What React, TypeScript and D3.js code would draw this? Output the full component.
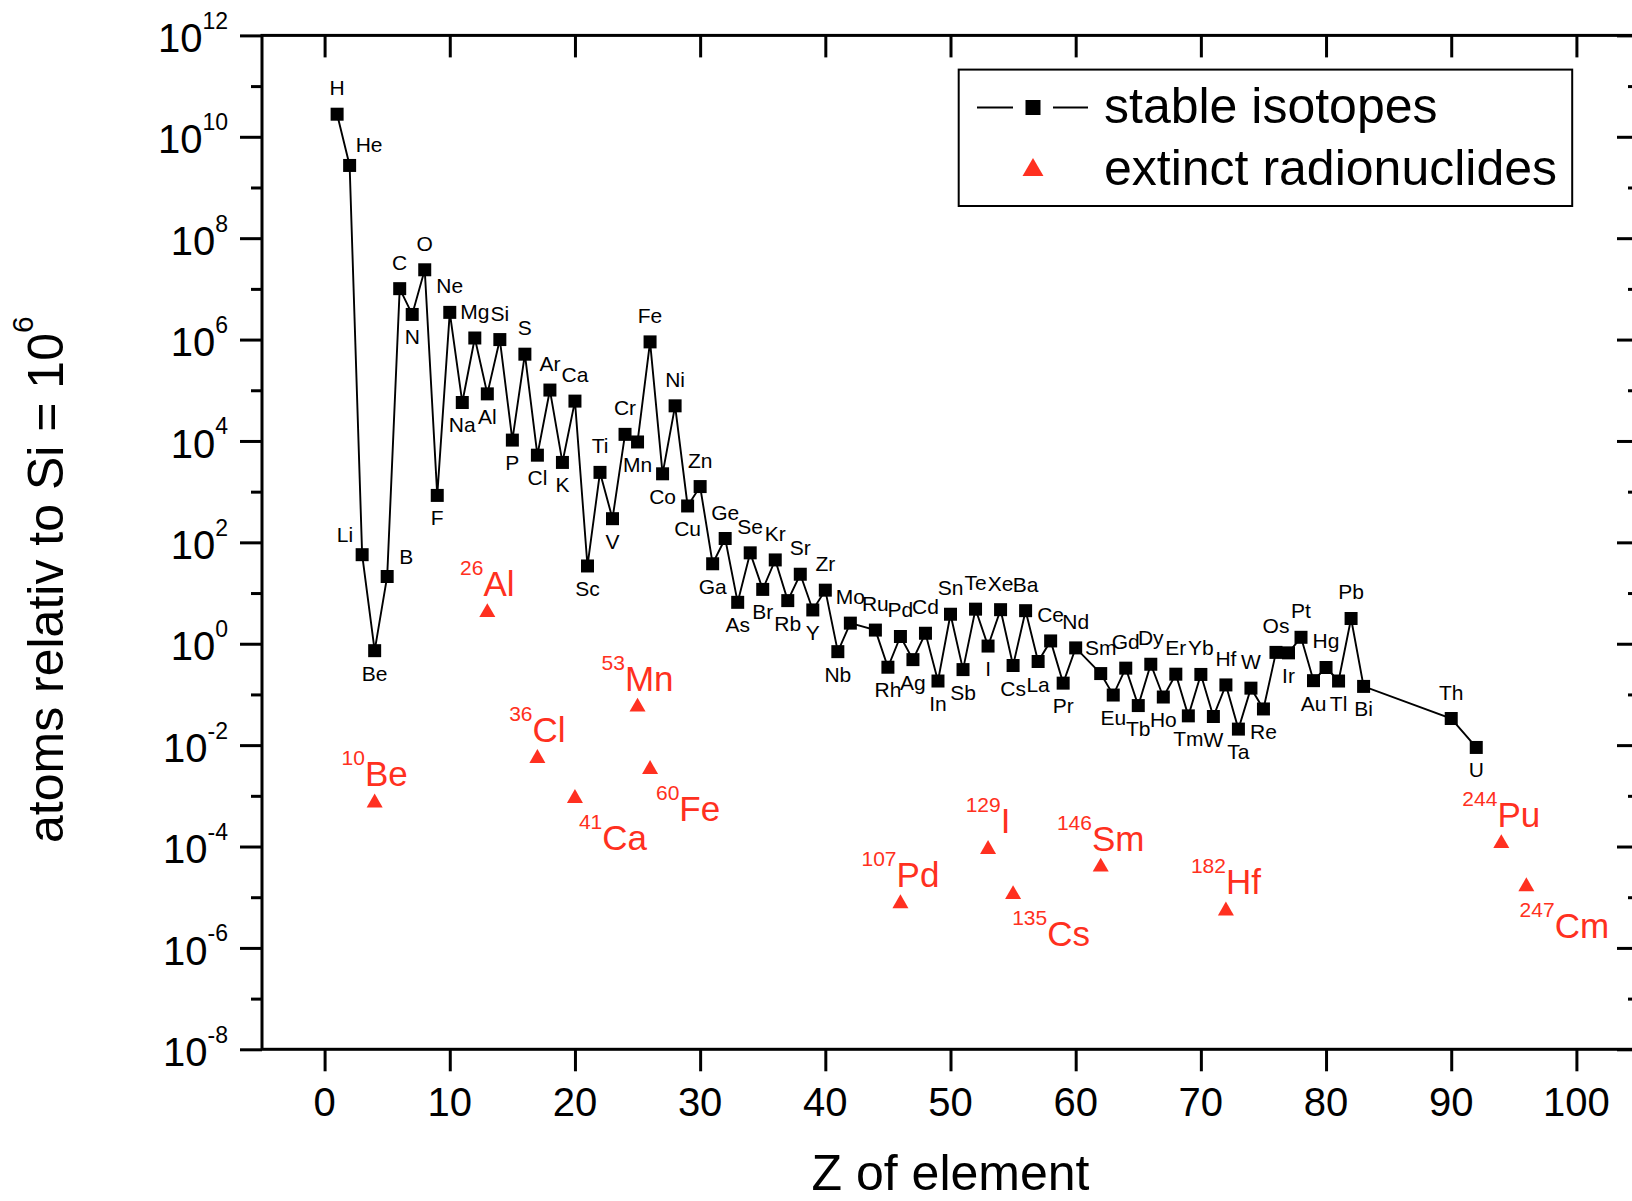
import React, { useRef, useEffect } from "react";
import * as d3 from "d3";

// solar system abundances, atoms per 10^6 Si
const symbols = [
  "H", "He", "Li", "Be", "B", "C", "N", "O", "F", "Ne",
  "Na", "Mg", "Al", "Si", "P", "S", "Cl", "Ar", "K", "Ca",
  "Sc", "Ti", "V", "Cr", "Mn", "Fe", "Co", "Ni", "Cu", "Zn",
  "Ga", "Ge", "As", "Se", "Br", "Kr", "Rb", "Sr", "Y", "Zr",
  "Nb", "Mo", "Ru", "Rh", "Pd", "Ag", "Cd", "In", "Sn", "Sb",
  "Te", "I", "Xe", "Cs", "Ba", "La", "Ce", "Pr", "Nd", "Sm",
  "Eu", "Gd", "Tb", "Dy", "Ho", "Er", "Tm", "Yb", "W", "Hf",
  "Ta", "W", "Re", "Os", "Ir", "Pt", "Au", "Hg", "Tl", "Pb",
  "Bi", "Th", "U",
];
const zNumbers = [
  1, 2, 3, 4, 5, 6, 7, 8, 9, 10,
  11, 12, 13, 14, 15, 16, 17, 18, 19, 20,
  21, 22, 23, 24, 25, 26, 27, 28, 29, 30,
  31, 32, 33, 34, 35, 36, 37, 38, 39, 40,
  41, 42, 44, 45, 46, 47, 48, 49, 50, 51,
  52, 53, 54, 55, 56, 57, 58, 59, 60, 62,
  63, 64, 65, 66, 67, 68, 69, 70, 71, 72,
  73, 74, 75, 76, 77, 78, 79, 80, 81, 82,
  83, 90, 92,
];
const abundances = [
  2.79e10, 2.72e9, 57.1, 0.73, 21.2, 1.01e7, 3.13e6, 2.38e7, 843, 3.44e6,
  5.74e4, 1.074e6, 8.49e4, 1.0e6, 1.04e4, 5.15e5, 5240, 1.01e5, 3770, 6.11e4,
  34.2, 2400, 293, 1.35e4, 9550, 9.0e5, 2250, 4.93e4, 522, 1260,
  37.8, 119, 6.56, 62.1, 11.8, 45, 7.09, 23.5, 4.64, 11.4,
  0.698, 2.55, 1.86, 0.344, 1.39, 0.486, 1.61, 0.184, 3.82, 0.309,
  4.81, 0.9, 4.7, 0.372, 4.49, 0.446, 1.136, 0.167, 0.828, 0.258,
  0.0973, 0.33, 0.0603, 0.394, 0.0889, 0.251, 0.0378, 0.248, 0.0367, 0.154,
  0.0207, 0.133, 0.0517, 0.675, 0.661, 1.34, 0.187, 0.34, 0.184, 3.15,
  0.144, 0.0335, 0.009,
];
// where each element label sits: a = above, b = below, r = right, l = left
const labelSides = [
  "a", "r", "l", "b", "r", "a", "b", "a", "b", "a",
  "b", "a", "b", "a", "b", "a", "b", "a", "b", "a",
  "b", "a", "b", "a", "b", "a", "b", "a", "b", "a",
  "b", "a", "b", "a", "b", "a", "b", "a", "b", "a",
  "b", "a", "a", "b", "a", "b", "a", "b", "a", "b",
  "a", "b", "a", "b", "a", "b", "a", "b", "a", "a",
  "b", "a", "b", "a", "b", "a", "b", "a", "b", "a",
  "b", "a", "b", "a", "b", "a", "b", "a", "b", "a",
  "b", "a", "b",
];

// extinct radionuclides, initial abundances
const extinctSymbols = ["Be", "Al", "Cl", "Ca", "Mn", "Fe", "Pd", "I", "Cs", "Sm", "Hf", "Pu", "Cm"];
const extinctMasses = [10, 26, 36, 41, 53, 60, 107, 129, 135, 146, 182, 244, 247];
const extinctZ = [4, 13, 17, 20, 25, 26, 46, 53, 55, 62, 72, 94, 96];
const extinctAbundances = [8.1e-4, 4.6, 6.1e-3, 9.9e-4, 6.3e-2, 3.7e-3, 8.3e-6, 9.8e-5, 1.26e-5, 4.4e-5, 6.0e-6, 1.28e-4, 1.8e-5];
const extinctLabelSides = ["a", "a", "a", "b", "a", "b", "a", "a", "b", "a", "a", "a", "b"];

const xTicks = [0, 10, 20, 30, 40, 50, 60, 70, 80, 90, 100];
const yMajorExponents = [-8, -6, -4, -2, 0, 2, 4, 6, 8, 10, 12];
const yMinorExponents = [-7, -5, -3, -1, 1, 3, 5, 7, 9, 11];

const FONT = "'Liberation Sans', Arial, Helvetica, sans-serif";
const RED = "#ff3020";

const App = () => {
  const svgRef = useRef<SVGSVGElement>(null);

  useEffect(() => {
    const svg = d3.select(svgRef.current);
    svg.selectAll("*").remove();

    const left = 262, right = 1639, top = 35.4, bottom = 1049.3;
    const x = d3.scaleLinear().domain([-5, 105]).range([left, right]);
    const y = d3.scaleLog().domain([1e-8, 1e12]).range([bottom, top]);

    const majors = yMajorExponents.map((e) => Math.pow(10, e));
    const minors = yMinorExponents.map((e) => Math.pow(10, e));

    const styleAxis = (g: any) => {
      g.select(".domain").remove();
      g.selectAll(".tick line").attr("stroke", "#000").attr("stroke-width", 3);
      g.selectAll(".tick text").remove();
    };

    // axes
    svg.append("g").attr("transform", `translate(0,${bottom})`)
      .call(d3.axisBottom(x).tickValues(xTicks).tickSize(22).tickSizeOuter(0).tickFormat(() => ""))
      .call(styleAxis);
    svg.append("g").attr("transform", `translate(0,${top})`)
      .call(d3.axisTop(x).tickValues(xTicks).tickSize(-22).tickSizeOuter(0).tickFormat(() => ""))
      .call(styleAxis);
    svg.append("g").attr("transform", `translate(${left},0)`)
      .call(d3.axisLeft(y).tickValues(majors).tickSize(22).tickSizeOuter(0).tickFormat(() => ""))
      .call(styleAxis);
    svg.append("g").attr("transform", `translate(${left},0)`)
      .call(d3.axisLeft(y).tickValues(minors).tickSize(11).tickSizeOuter(0).tickFormat(() => ""))
      .call(styleAxis);
    svg.append("g").attr("transform", `translate(${right},0)`)
      .call(d3.axisRight(y).tickValues(majors).tickSize(-22).tickSizeOuter(0).tickFormat(() => ""))
      .call(styleAxis);
    svg.append("g").attr("transform", `translate(${right},0)`)
      .call(d3.axisRight(y).tickValues(minors).tickSize(-11).tickSizeOuter(0).tickFormat(() => ""))
      .call(styleAxis);

    svg.append("rect")
      .attr("x", left).attr("y", top)
      .attr("width", right - left).attr("height", bottom - top)
      .attr("fill", "none").attr("stroke", "#000").attr("stroke-width", 3);

    // tick labels
    const yl = svg.append("g").attr("font-family", FONT).attr("fill", "#000");
    yMajorExponents.forEach((e) => {
      const t = yl.append("text")
        .attr("x", 228).attr("y", y(Math.pow(10, e)) + 16.7)
        .attr("text-anchor", "end");
      t.append("tspan").attr("font-size", 40).text("10");
      t.append("tspan").attr("font-size", 23).attr("dy", -23.3).text(String(e));
    });
    svg.append("g").selectAll("text").data(xTicks).join("text")
      .attr("x", (d) => x(d)).attr("y", 1116)
      .attr("text-anchor", "middle")
      .attr("font-family", FONT).attr("font-size", 40)
      .text((d) => d);

    // axis titles
    svg.append("text")
      .attr("x", (left + right) / 2).attr("y", 1190)
      .attr("text-anchor", "middle")
      .attr("font-family", FONT).attr("font-size", 50)
      .text("Z of element");
    const yt = svg.append("text")
      .attr("transform", "translate(63,843) rotate(-90)")
      .attr("font-family", FONT);
    yt.append("tspan").attr("font-size", 50).text("atoms relativ to Si = 10");
    yt.append("tspan").attr("font-size", 30).attr("dy", -30).text("6");

    // stable isotopes
    const pts = zNumbers.map((z, i) => ({ z, v: abundances[i], s: symbols[i], side: labelSides[i] }));
    const line = d3.line<any>().x((d) => x(d.z)).y((d) => y(d.v));
    svg.append("path").datum(pts)
      .attr("d", line)
      .attr("fill", "none").attr("stroke", "#000").attr("stroke-width", 1.9);
    const square = d3.symbol().type(d3.symbolSquare).size(169);
    svg.append("g").selectAll("path").data(pts).join("path")
      .attr("d", square)
      .attr("transform", (d) => `translate(${x(d.z)},${y(d.v)})`)
      .attr("fill", "#000");

    svg.append("g").attr("font-family", FONT).attr("font-size", 21)
      .selectAll("text").data(pts).join("text")
      .attr("x", (d) => {
        const px = x(d.z);
        if (d.side === "r") return px + (d.s === "B" ? 12 : 6);
        if (d.side === "l") return px - 9;
        return px;
      })
      .attr("y", (d) => {
        const py = y(d.v);
        if (d.side === "a") return py - 19;
        if (d.side === "b") return py + 30;
        return py - 13;
      })
      .attr("text-anchor", (d) => (d.side === "r" ? "start" : d.side === "l" ? "end" : "middle"))
      .text((d) => d.s);

    // extinct radionuclides
    const ext = extinctZ.map((z, i) => ({
      z, v: extinctAbundances[i], s: extinctSymbols[i], m: extinctMasses[i], side: extinctLabelSides[i],
    }));
    const tri = d3.symbol().type(d3.symbolTriangle).size(111);
    svg.append("g").selectAll("path").data(ext).join("path")
      .attr("d", tri)
      .attr("transform", (d) => `translate(${x(d.z)},${y(d.v) + 2.3})`)
      .attr("fill", RED);
    const el = svg.append("g").attr("font-family", FONT).attr("fill", RED);
    ext.forEach((d) => {
      const t = el.append("text")
        .attr("x", x(d.z) + (d.side === "a" ? 0 : 38))
        .attr("y", y(d.v) + (d.side === "a" ? -14 : 54))
        .attr("text-anchor", "middle");
      t.append("tspan").attr("font-size", 21).attr("dy", -21).text(String(d.m));
      t.append("tspan").attr("font-size", 35).attr("dy", 21).text(d.s);
    });

    // legend
    const lg = svg.append("g");
    lg.append("rect")
      .attr("x", 958.7).attr("y", 69.6).attr("width", 613.5).attr("height", 136.4)
      .attr("fill", "#fff").attr("stroke", "#000").attr("stroke-width", 2);
    lg.append("line").attr("x1", 977).attr("x2", 1013).attr("y1", 107.5).attr("y2", 107.5)
      .attr("stroke", "#000").attr("stroke-width", 1.8);
    lg.append("line").attr("x1", 1053).attr("x2", 1088).attr("y1", 107.5).attr("y2", 107.5)
      .attr("stroke", "#000").attr("stroke-width", 1.8);
    lg.append("path").attr("d", d3.symbol().type(d3.symbolSquare).size(225)())
      .attr("transform", "translate(1033,107.5)").attr("fill", "#000");
    lg.append("path").attr("d", d3.symbol().type(d3.symbolTriangle).size(190)())
      .attr("transform", "translate(1033,170)").attr("fill", RED);
    lg.append("text").attr("x", 1104).attr("y", 123.3)
      .attr("font-family", FONT).attr("font-size", 50).text("stable isotopes");
    lg.append("text").attr("x", 1104).attr("y", 185)
      .attr("font-family", FONT).attr("font-size", 50).text("extinct radionuclides");
  }, []);

  return (
    <svg
      ref={svgRef}
      width={1632}
      height={1201}
      style={{ position: "absolute", left: 0, top: 0, background: "#fff", overflow: "hidden" }}
    />
  );
};

export default App;
